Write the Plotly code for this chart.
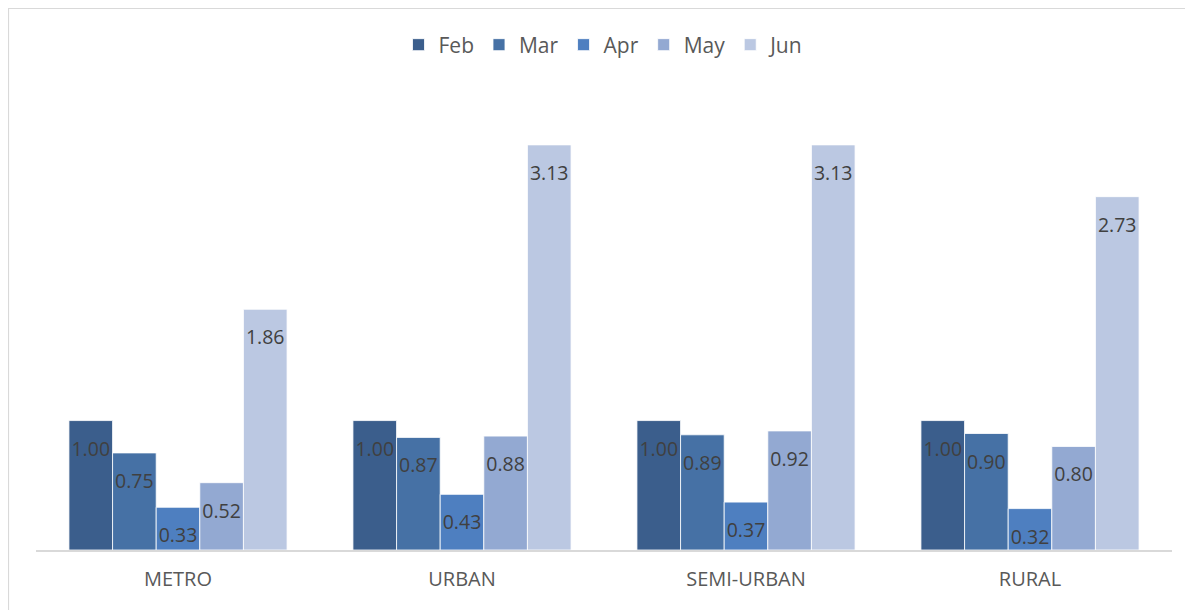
import plotly.graph_objects as go

categories = ["METRO", "URBAN", "SEMI-URBAN", "RURAL"]
months = ["Feb", "Mar", "Apr", "May", "Jun"]
feb = [1.00, 1.00, 1.00, 1.00]
mar = [0.75, 0.87, 0.89, 0.90]
apr = [0.33, 0.43, 0.37, 0.32]
may = [0.52, 0.88, 0.92, 0.80]
jun = [1.86, 3.13, 3.13, 2.73]
series = [feb, mar, apr, may, jun]
colors = ["#3B5E8C", "#4671A5", "#4E7FC0", "#93A9D2", "#BBC8E2"]

# page body adds an 8px offset
W, H = 1185, 602
L, R, T, B = 28, 21, 89, 60
GAP = 0.232

fig = go.Figure()
for name, vals, col in zip(months, series, colors):
    fig.add_trace(go.Bar(
        x=categories, y=vals, name=name,
        marker=dict(color=col, line=dict(color="white", width=0.8)),
        hoverinfo="x+y+name",
    ))
# data labels placed just inside the top of each bar
for name, vals in zip(months, series):
    fig.add_trace(go.Scatter(
        x=categories, y=vals, name=name, showlegend=False,
        mode="text+markers", marker=dict(size=31, opacity=0),
        text=[f"{v:.2f}" for v in vals], textposition="bottom center",
        textfont=dict(family="Open Sans", size=19.5, color="#404040"),
        cliponaxis=False, hoverinfo="skip",
    ))

pw = W - L - R
ph = H - T - B
x0 = (0.5 - L) / pw
y1 = 1 + (T - 0.5) / ph
fig.update_layout(
    width=W, height=H,
    margin=dict(l=L, r=R, t=T, b=B),
    barmode="group", bargap=GAP, bargroupgap=0,
    scattermode="group", scattergap=GAP,
    plot_bgcolor="white", paper_bgcolor="white",
    font=dict(family="Open Sans", color="#595959"),
    legend=dict(orientation="h", x=0.5, xanchor="center", y=1 + (T - 37) / ph,
                yanchor="middle", font=dict(size=21, color="#595959"),
                itemwidth=30, traceorder="normal"),
    xaxis=dict(showline=True, linecolor="#D9D9D9", linewidth=1.5, ticks="",
               tickfont=dict(size=20, color="#595959"), ticklabelstandoff=10),
    yaxis=dict(range=[0, 3.5], visible=False, showgrid=False),
    shapes=[dict(type="rect", xref="paper", yref="paper",
                 x0=x0, x1=1 + 40 / pw, y0=-100 / ph, y1=y1,
                 line=dict(color="#D9D9D9", width=1.2), layer="below")],
)
fig.write_html("out.html")
